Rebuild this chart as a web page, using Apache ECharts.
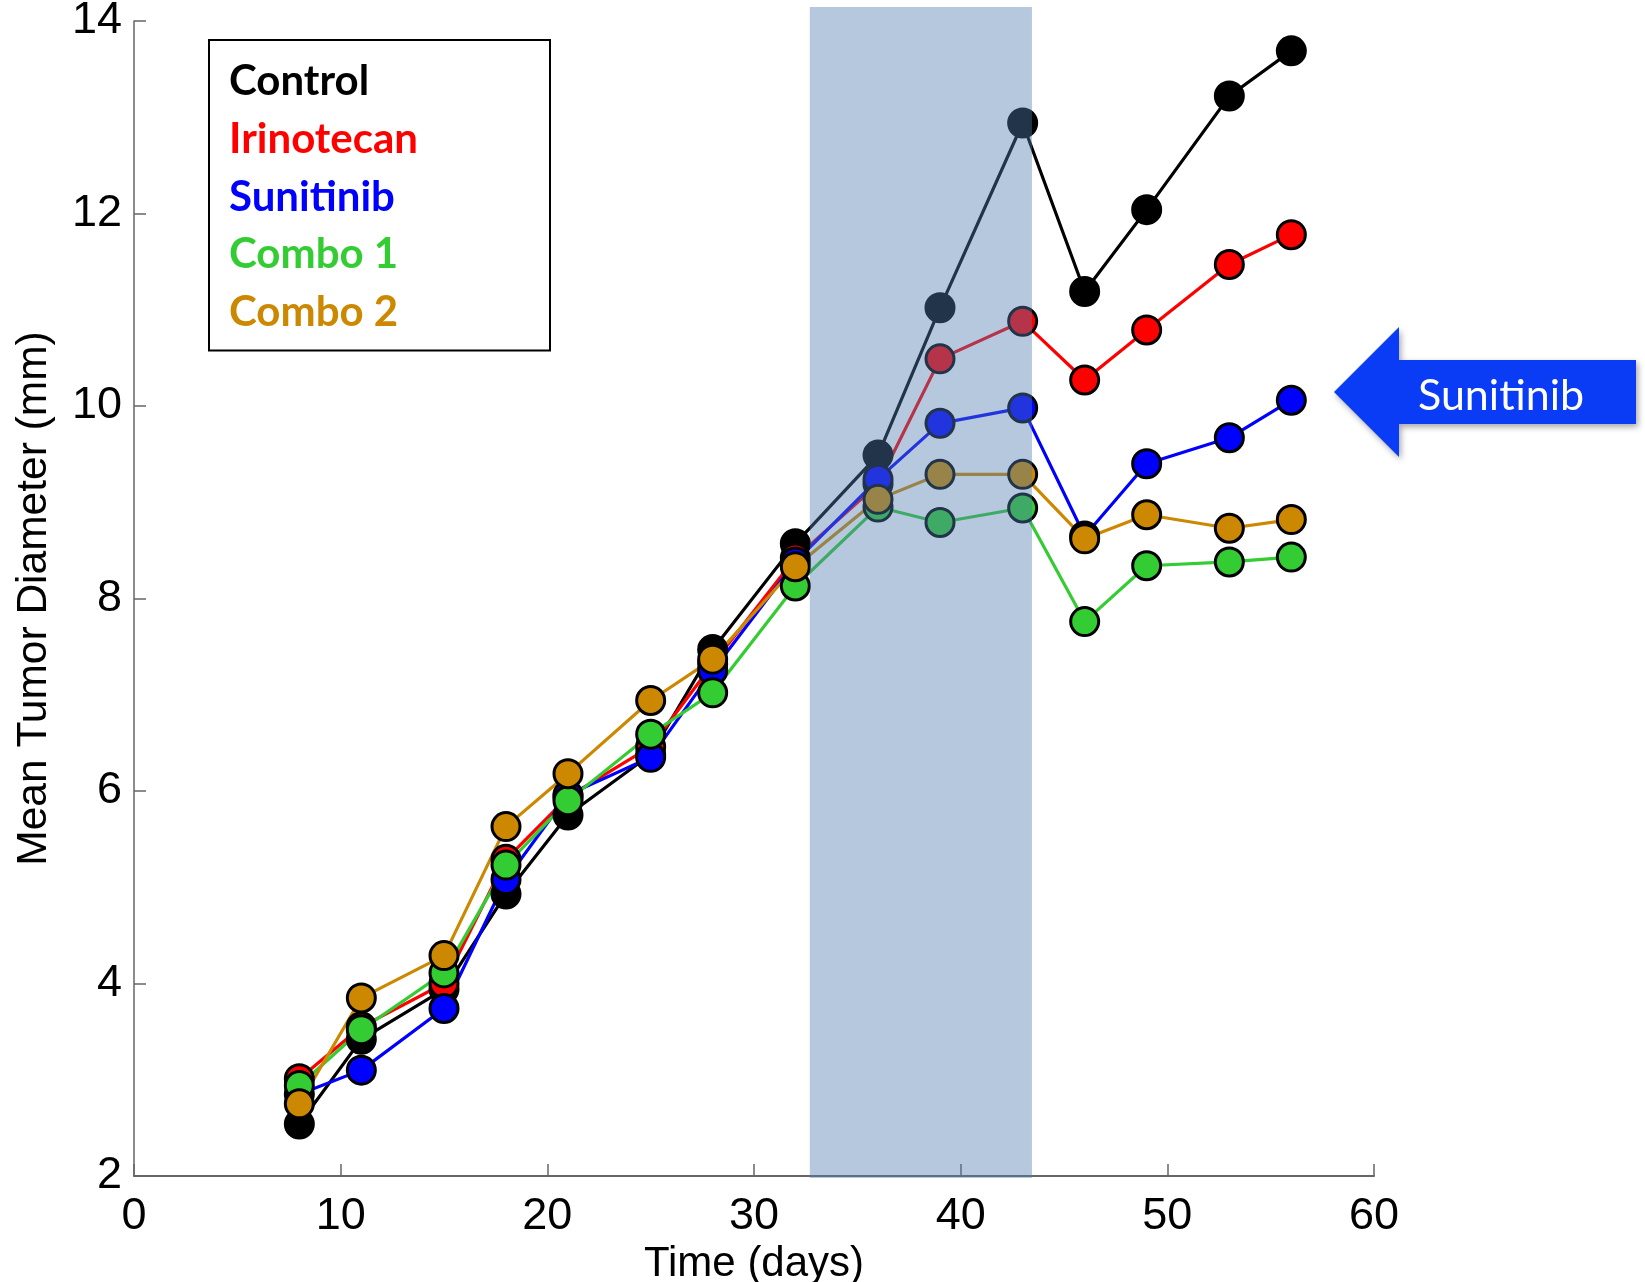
<!DOCTYPE html>
<html>
<head>
<meta charset="utf-8">
<title>Mean Tumor Diameter</title>
<script src="https://cdn.jsdelivr.net/npm/echarts@6.0.0/dist/echarts.min.js"></script>
<style>
  html, body { margin: 0; padding: 0; background: #fff; }
  #chart { width: 1645px; height: 1282px; }
</style>
</head>
<body>
<div id="chart"></div>
<script>
// Measurement days
const days = [8, 11, 15, 18, 21, 25, 28, 32, 36, 39, 43, 46, 49, 53, 56];

// Mean tumor diameter (mm) per group
const control    = [2.54, 3.42, 3.94, 4.93, 5.75, 6.38, 7.47, 8.57, 9.49, 11.02, 12.94, 11.19, 12.04, 13.22, 13.69];
const irinotecan = [3.01, 3.55, 4.00, 5.29, 5.94, 6.46, 7.32, 8.42, 9.19, 10.49, 10.88, 10.27, 10.79, 11.47, 11.78];
const sunitinib  = [2.85, 3.10, 3.74, 5.08, 5.96, 6.35, 7.25, 8.38, 9.24, 9.82, 9.98, 8.65, 9.40, 9.67, 10.06];
const combo1     = [2.94, 3.52, 4.11, 5.23, 5.90, 6.59, 7.02, 8.13, 8.95, 8.79, 8.94, 7.76, 8.34, 8.38, 8.43];
const combo2     = [2.75, 3.85, 4.29, 5.63, 6.18, 6.94, 7.37, 8.33, 9.03, 9.29, 9.29, 8.62, 8.87, 8.73, 8.82];

// Treatment window (days)
const treatmentWindow = [32.7, 43.45];

const groupNames  = ['Control', 'Irinotecan', 'Sunitinib', 'Combo 1', 'Combo 2'];
const groupValues = [control, irinotecan, sunitinib, combo1, combo2];
const groupColors = ['#000000', '#ff0000', '#0000ff', '#33cc33', '#cc8800'];

const axisFont = "'Liberation Sans', Arial, Helvetica, sans-serif";
const legendFont = "Lato, 'Open Sans', sans-serif";

const chart = echarts.init(document.getElementById('chart'), null, { renderer: 'canvas' });

const lineSeries = groupNames.map((name, i) => ({
  name: name,
  type: 'line',
  data: days.map((d, k) => [d, groupValues[i][k]]),
  symbol: 'circle',
  symbolSize: 28,
  showAllSymbol: true,
  lineStyle: { color: groupColors[i], width: 3.2 },
  itemStyle: { color: groupColors[i], borderColor: '#000', borderWidth: 3 },
  emphasis: { disabled: true },
  animation: false
}));

// Shaded treatment period, drawn above the lines
const bandSeries = {
  name: 'treatment',
  type: 'custom',
  z: 10,
  clip: false,
  silent: true,
  animation: false,
  data: [treatmentWindow],
  renderItem: function (params, api) {
    const p0 = api.coord([api.value(0), 14]);
    const p1 = api.coord([api.value(1), 2]);
    const top = p0[1] - 14;
    const bottom = p1[1] + 2;
    return {
      type: 'rect',
      shape: { x: p0[0], y: top, width: p1[0] - p0[0], height: bottom - top },
      style: { fill: 'rgba(81,124,174,0.42)' }
    };
  }
};

// Legend box padding sized from the widest label
const legendFontSize = 42;
const ctx = document.createElement('canvas').getContext('2d');
ctx.font = 'bold ' + legendFontSize + 'px ' + legendFont;
const maxLabel = Math.max.apply(null, groupNames.map(n => ctx.measureText(n).width));
const legendBoxWidth = 340;
const legendPadLeft = 14;
const legendPadRight = Math.max(4, legendBoxWidth - legendPadLeft - 5 - maxLabel);

const option = {
  backgroundColor: '#ffffff',
  animation: false,
  grid: { left: 134, right: 271, top: 21, bottom: 106, containLabel: false, outerBoundsMode: 'none' },
  xAxis: {
    type: 'value',
    min: 0,
    max: 60,
    interval: 10,
    name: 'Time (days)',
    nameLocation: 'middle',
    nameGap: 62,
    nameTextStyle: { fontFamily: axisFont, fontSize: 42, color: '#000' },
    axisLine: { show: true, lineStyle: { color: '#666666', width: 2 } },
    axisTick: { show: true, inside: true, length: 12, lineStyle: { color: '#666666', width: 1.5 } },
    axisLabel: { fontFamily: axisFont, fontSize: 45, color: '#000', margin: 18 },
    splitLine: { show: false }
  },
  yAxis: {
    type: 'value',
    min: 2,
    max: 14,
    interval: 2,
    name: 'Mean Tumor Diameter (mm)',
    nameLocation: 'middle',
    nameRotate: 90,
    nameGap: 78,
    nameTextStyle: { fontFamily: axisFont, fontSize: 42.5, color: '#000' },
    axisLine: { show: true, lineStyle: { color: '#666666', width: 1.5 } },
    axisTick: { show: true, inside: true, length: 12, lineStyle: { color: '#666666', width: 1.5 } },
    axisLabel: { fontFamily: axisFont, fontSize: 45, color: '#000', margin: 12 },
    splitLine: { show: false }
  },
  legend: {
    left: 209,
    top: 40,
    orient: 'vertical',
    icon: 'rect',
    itemWidth: 0,
    itemHeight: 0,
    itemGap: 0,
    selectedMode: false,
    padding: [13, legendPadRight, 9, legendPadLeft],
    borderColor: '#000',
    borderWidth: 2,
    backgroundColor: '#fff',
    textStyle: { fontFamily: legendFont, fontWeight: 'bold', fontSize: legendFontSize, lineHeight: 57.7 },
    data: groupNames.map((n, i) => ({ name: n, textStyle: { color: groupColors[i] } }))
  },
  graphic: [
    {
      type: 'polygon',
      z: 20,
      shape: {
        points: [[1334, 392], [1399, 327], [1399, 360], [1636, 360], [1636, 424], [1399, 424], [1399, 457]]
      },
      style: {
        fill: '#0a3cf5',
        shadowBlur: 6,
        shadowOffsetX: 2,
        shadowOffsetY: 3,
        shadowColor: 'rgba(0,0,0,0.35)'
      }
    },
    {
      type: 'text',
      z: 21,
      x: 1418,
      y: 396,
      style: {
        text: 'Sunitinib',
        fill: '#ffffff',
        font: '43px ' + legendFont,
        verticalAlign: 'middle',
        align: 'left'
      }
    }
  ],
  series: lineSeries.concat([bandSeries])
};

chart.setOption(option);
</script>
</body>
</html>
